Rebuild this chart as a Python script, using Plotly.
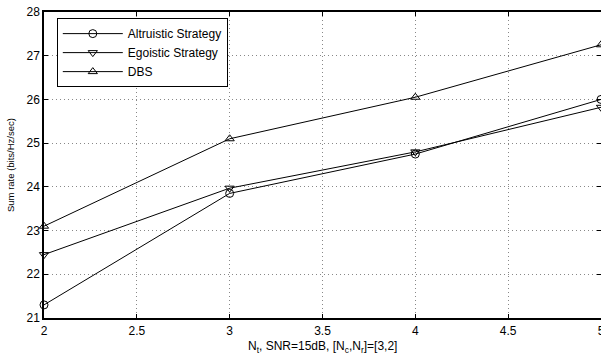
import plotly.graph_objects as go

nt = [2, 3, 4, 5]
altruistic = [21.3, 23.85, 24.75, 26.0]
egoistic = [22.45, 23.97, 24.8, 25.82]
dbs = [23.1, 25.1, 26.05, 27.25]

x_ticks = [2, 2.5, 3, 3.5, 4, 4.5, 5]
x_ticklabels = ["2", "2.5", "3", "3.5", "4", "4.5", "5"]
y_ticks = [21, 22, 23, 24, 25, 26, 27, 28]

fig = go.Figure()
series = [
    ("Altruistic Strategy", altruistic, "circle-open"),
    ("Egoistic Strategy", egoistic, "triangle-down-open"),
    ("DBS", dbs, "triangle-up-open"),
]
for name, ys, sym in series:
    fig.add_trace(go.Scatter(
        x=nt, y=ys, name=name, mode="lines+markers",
        line=dict(color="black", width=1),
        marker=dict(symbol=sym, size=8, color="black", line=dict(width=1, color="black")),
        cliponaxis=False,
    ))

axis_common = dict(
    showline=True, linecolor="black", linewidth=1.5, mirror="ticks",
    ticks="inside", ticklen=4, tickcolor="black",
    showgrid=True, gridcolor="#888888", griddash="1px,3px", gridwidth=1,
    zeroline=False, automargin=False,
    tickfont=dict(family="Liberation Sans, Arial", size=12, color="black"),
)

fig.update_layout(
    width=612, height=354,
    margin=dict(l=44, r=11, t=12, b=36),
    paper_bgcolor="white", plot_bgcolor="white",
    font=dict(family="Liberation Sans, Arial", size=12, color="black"),
    xaxis=dict(range=[2, 5], tickvals=x_ticks, ticktext=x_ticklabels, ticklabelstandoff=1, **axis_common),
    yaxis=dict(range=[21, 28], tickvals=y_ticks, **axis_common),
    legend=dict(x=0.023, y=0.98, xanchor="left", yanchor="top",
                bgcolor="white", bordercolor="black", borderwidth=1,
                font=dict(size=12), tracegroupgap=0, itemwidth=60),
    showlegend=True,
    annotations=[
        dict(text="N<sub>t</sub>, SNR=15dB, [N<sub>c</sub>,N<sub>r</sub>]=[3,2]",
             xref="paper", yref="paper", x=0.5, y=-0.094, xanchor="center", yanchor="middle",
             showarrow=False, font=dict(size=12)),
        dict(text="Sum rate (bits/Hz/sec)", textangle=-90,
             xref="paper", yref="paper", x=-0.061, y=0.5, xanchor="center", yanchor="middle",
             showarrow=False, font=dict(size=9.5)),
    ],
)

fig.write_html(
    "out.html",
    config={"displayModeBar": False},
    post_script="document.body.style.margin='0';document.body.style.overflow='hidden';document.documentElement.style.overflow='hidden';",
)
